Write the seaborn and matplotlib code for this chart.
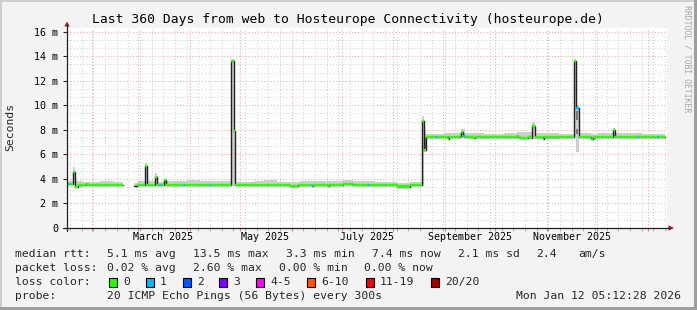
import numpy as np
import pandas as pd
import matplotlib
matplotlib.use("Agg")
import matplotlib.pyplot as plt
from matplotlib.lines import Line2D
from matplotlib.patches import Rectangle, Polygon
import seaborn as sns

W, H = 697, 310

# ---------------- data ----------------
# median RTT, step segments: start day (from graph start), value in ms, loss bucket (-1 = unknown)
med_start = [0.0, 1.2, 3.3, 4.5, 6.6, 11.4, 12.6, 33.6, 40.2, 42.0, 46.8, 48.0, 52.8, 54.0,
             55.8, 56.4, 58.2, 59.1, 70.2, 70.8, 85.8, 86.4, 98.1, 99.9, 100.5, 133.8, 138.6,
             147.0, 147.6, 156.6, 157.2, 165.6, 171.6, 172.2, 180.6, 181.2, 198.0, 205.8,
             213.0, 214.2, 215.4, 221.4, 222.0, 228.6, 229.2, 235.8, 236.4, 237.6, 238.8,
             243.6, 244.8, 270.0, 270.6, 271.8, 276.6, 278.4, 279.0, 280.8, 285.6, 286.2,
             304.2, 305.4, 307.2, 314.4, 315.6, 327.3, 328.8, 342.6, 343.2, 354.6, 355.2]
med_value = [3.55, 3.55, 4.6, 3.37, 3.5, 3.56, 3.5, np.nan, 3.43, 3.5, 5.05, 3.5, 4.15, 3.5,
             3.5, 3.5, 3.9, 3.5, 3.5, 3.5, 3.5, 3.5, 13.6, 7.9, 3.5, 3.43, 3.5,
             3.42, 3.5, 3.42, 3.5, 3.57, 3.47, 3.47, 3.47, 3.47, 3.38, 3.47,
             8.75, 6.35, 7.38, 7.38, 7.38, 7.27, 7.38, 7.5, 7.86, 7.5, 7.38,
             7.3, 7.38, 7.5, 7.42, 7.3, 7.45, 7.3, 8.33, 7.45, 7.25, 7.38,
             13.58, 9.77, 7.38, 7.26, 7.38, 8.0, 7.38, 7.38, 7.38, 7.38, 7.38]
med_loss = [1, 0, 0, 0, 0, 0, 0, -1, -1, 0, 0, 0, 0, 0,
            1, 0, 0, 0, 1, 0, 1, 0, 0, 0, 0, 0, 0,
            1, 0, 0, 0, 0, 1, 0, 1, 0, 0, 0,
            0, 0, 0, 1, 0, 0, 0, 0, 0, 1, 0,
            0, 0, 0, 0, 0, 0, 0, 0, 0, 0, 0,
            0, 1, 0, 0, 0, 0, 0, 1, 0, 1, 0]
END_DAY = 358.8

# smoke (ping spread) segments: start day, low ms, high ms
smoke_start = [0.0, 3.3, 4.5, 9.0, 20.0, 28.0, 33.6, 40.2, 42.0, 46.8, 48.0, 52.8, 54.0, 58.2,
               59.1, 72.0, 80.0, 98.1, 99.9, 100.5, 112.0, 118.0, 126.0, 140.0, 150.0, 165.6,
               171.6, 185.0, 198.0, 205.8, 213.0, 214.2, 215.4, 226.0, 236.4, 238.8, 250.0,
               262.0, 270.0, 279.0, 280.8, 295.0, 304.2, 305.4, 307.2, 314.4, 318.0, 327.3,
               328.8, 335.0, 345.0, 352.0]
smoke_lo = [3.5, 3.5, 3.33, 3.45, 3.45, 3.45, np.nan, 3.4, 3.45, 3.45, 3.45, 3.45, 3.45, 3.45,
            3.45, 3.45, 3.45, 3.45, 3.45, 3.45, 3.45, 3.45, 3.45, 3.45, 3.45, 3.52,
            3.42, 3.42, 3.33, 3.42, 3.42, 6.2, 7.33, 7.33, 7.33, 7.33, 7.33,
            7.33, 7.33, 7.25, 7.25, 7.33, 7.3, 6.2, 7.33, 7.2, 7.33, 7.33,
            7.33, 7.33, 7.33, 7.33]
smoke_hi = [3.82, 5.0, 3.8, 3.75, 3.8, 3.78, np.nan, 3.65, 3.8, 5.3, 3.85, 4.45, 3.78, 4.0,
            3.8, 3.9, 3.8, 13.8, 8.2, 3.75, 3.82, 3.9, 3.78, 3.85, 3.8, 3.88,
            3.8, 3.75, 3.7, 3.75, 9.1, 8.0, 7.7, 7.75, 8.1, 7.78, 7.7,
            7.72, 7.8, 8.6, 7.72, 7.7, 13.8, 10.0, 7.78, 7.7, 7.72, 8.15,
            7.75, 7.72, 7.65, 7.7]

# dense (dark) smoke patches: start, end, low, high
dark_start = [305.4, 305.4, 214.6]
dark_end = [306.6, 306.6, 215.6]
dark_lo = [8.8, 7.7, 6.4]
dark_hi = [9.5, 8.1, 7.45]

loss_labels = ["0", "1", "2", "3", "4-5", "6-10", "11-19", "20/20"]
loss_colors = ["#26ff00", "#00b8ff", "#0059ff", "#7e00ff", "#ff00ff", "#ff5500", "#ff0000", "#a10000"]

y_tick_values = [0, 2, 4, 6, 8, 10, 12, 14, 16]
y_tick_labels = ["0", "2 m", "4 m", "6 m", "8 m", "10 m", "12 m", "14 m", "16 m"]
month_labels = ["March 2025", "May 2025", "July 2025", "September 2025", "November 2025"]
month_label_dates = ["2025-03-16", "2025-05-16", "2025-07-16", "2025-09-16", "2025-11-16"]

title = "Last 360 Days from web to Hosteurope Connectivity (hosteurope.de)"
row1_texts = ["median rtt:", "5.1 ms avg", "13.5 ms max", "3.3 ms min", "7.4 ms now", "2.1 ms sd", "2.4", "am/s"]
row2_texts = ["packet loss:", "0.02 % avg", "2.60 % max", "0.00 % min", "0.00 % now"]
row3_title = "loss color:"
row4_texts = ["probe:", "20 ICMP Echo Pings (56 Bytes) every 300s"]
timestamp = "Mon Jan 12 05:12:28 2026"
END_TIME = pd.Timestamp("2026-01-12 05:12:28")
SPAN_DAYS = 360

# ---------------- figure ----------------
sns.set_theme(style="white")
plt.rcParams["font.family"] = ["DejaVu Sans Mono"]
BG = "#f3f3f3"
fig = plt.figure(figsize=(W / 100, H / 100), dpi=100, facecolor=BG)

def fx(x):
    return x / W

def fy(y):
    return 1 - y / H

AX_L, AX_R, AX_T, AX_B = 67, 667, 27.5, 228
ax = fig.add_axes([fx(AX_L), fy(AX_B), (AX_R - AX_L) / W, (AX_B - AX_T) / H])
ax.set_facecolor("white")
ax.set_xlim(0, SPAN_DAYS)
ymax = 16 * (AX_B - AX_T) / (AX_B - 31.7)
ax.set_ylim(0, ymax)
for s in ax.spines.values():
    s.set_visible(False)

start_time = END_TIME - pd.Timedelta(days=SPAN_DAYS)
def to_day(ts):
    return (pd.Timestamp(ts) - start_time) / pd.Timedelta(days=1)

# grid
month_starts = pd.date_range("2025-02-01", "2026-01-01", freq="MS")
month_days = [to_day(t) for t in month_starts]
week_days = [to_day(t) for t in pd.date_range("2025-01-19", "2026-01-11", freq="W-SUN")]
week_days = [d for d in week_days if min(abs(d - m) for m in month_days) > 0.5]
minor_c, major_c = "#d2d2d2", "#f2a8a8"
dot = (0, (1, 2))
for k in range(1, int(ymax * 1.5) + 1):
    yv = k * 2 / 3
    if k % 3 == 0:
        ax.axhline(yv, color=major_c, lw=0.75, ls=dot, zorder=1)
    else:
        ax.axhline(yv, color=minor_c, lw=0.75, ls=dot, zorder=1)
for d in week_days:
    ax.axvline(d, color=minor_c, lw=0.75, ls=dot, zorder=1)
for d in month_days:
    ax.axvline(d, color=major_c, lw=0.75, ls=dot, zorder=1)

# tick marks below x axis
tl = 3 / (AX_B - AX_T)
ax.vlines(week_days, -tl, 0, transform=ax.get_xaxis_transform(), colors="#b0b0b0", lw=0.75, clip_on=False)
ax.vlines(month_days, -tl, 0, transform=ax.get_xaxis_transform(), colors="#e07070", lw=0.75, clip_on=False)

# smoke
def step_arrays(starts, end, *vals):
    ends = list(starts[1:]) + [end]
    runs, cur = [], []
    for i, s in enumerate(starts):
        if any(np.isnan(v[i]) for v in vals):
            if cur:
                runs.append(cur)
            cur = []
            continue
        cur.append((s, ends[i]) + tuple(v[i] for v in vals))
    if cur:
        runs.append(cur)
    return runs

for run in step_arrays(smoke_start, END_DAY, smoke_lo, smoke_hi):
    xs, lo, hi = [], [], []
    for s, e, l, h in run:
        xs += [s, e]; lo += [l, l]; hi += [h, h]
    ax.fill_between(xs, lo, hi, color="#cdcdcd", lw=0, zorder=2)
for s, e, l, h in zip(dark_start, dark_end, dark_lo, dark_hi):
    ax.fill_between([s, e], [l, l], [h, h], color="#7a7a7a", lw=0, zorder=2.5)

# median line (black)
rows = []
for r, run in enumerate(step_arrays(med_start, END_DAY, med_value)):
    for s, e, v in run:
        rows.append((s, v, r)); rows.append((e, v, r))
df = pd.DataFrame(rows, columns=["day", "ms", "run"])
sns.lineplot(data=df, x="day", y="ms", units="run", estimator=None, sort=False,
             color="#202020", lw=1.0, ax=ax, legend=False, zorder=3)

# loss-coloured median bands
ends = med_start[1:] + [END_DAY]
half = 0.085
for s, e, v, l in zip(med_start, ends, med_value, med_loss):
    if l < 0 or np.isnan(v):
        continue
    c = loss_colors[l]
    ax.fill_between([s, e], [v - half] * 2, [v + half] * 2, color=c, ec=c, lw=0.3, zorder=4)

# axes ticks / labels
ax.set_xticks([to_day(t) for t in month_label_dates], month_labels)
ax.set_yticks(y_tick_values, y_tick_labels)
ax.tick_params(axis="x", length=0, pad=3.2, labelsize=7.2, labelcolor="black")
ax.tick_params(axis="y", length=3, width=0.75, color="#202020", pad=3.5, labelsize=7.2,
               labelcolor="black", left=True)
ax.set_xlabel("")
ax.set_ylabel("")

# axis lines + arrows
axc = "#202020"
fig.add_artist(Line2D([fx(67), fx(67)], [fy(231), fy(25)], color=axc, lw=0.9))
fig.add_artist(Line2D([fx(63), fx(669)], [fy(228), fy(228)], color=axc, lw=0.9))
arc = "#9a1c1c"
fig.add_artist(Polygon([[fx(64.3), fy(26.5)], [fx(69.7), fy(26.5)], [fx(67), fy(21.5)]],
                       closed=True, color=arc, lw=0))
fig.add_artist(Polygon([[fx(668.5), fy(225.3)], [fx(668.5), fy(230.7)], [fx(674), fy(228)]],
                       closed=True, color=arc, lw=0))

# title / labels
fig.text(fx(348), fy(19), title, ha="center", va="center", fontsize=9.4, color="black")
fig.text(fx(10), fy(127), "Seconds", rotation=90, ha="center", va="center", fontsize=8.2)
fig.text(fx(687), fy(5), "RRDTOOL / TOBI OETIKER", rotation=270, ha="center", va="top",
         fontsize=5.9, color="#a8a8a8")

# legend block
LFS = 8.2
row1_x = [16, 107.3, 194, 286.7, 372.7, 458.3, 537.3, 579.3]
row2_x = [16, 107.3, 194, 279.3, 365]
row4_x = [16, 107.3]
for t, x in zip(row1_texts, row1_x):
    fig.text(fx(x - 0.7), fy(254), t, ha="left", va="center", fontsize=LFS)
for t, x in zip(row2_texts, row2_x):
    fig.text(fx(x - 0.7), fy(268), t, ha="left", va="center", fontsize=LFS)
fig.text(fx(16 - 0.7), fy(282), row3_title, ha="left", va="center", fontsize=LFS)
box_x = [108.7, 145.7, 182.7, 219.3, 256, 307.3, 365.7, 430.7]
for c, lab, bx in zip(loss_colors, loss_labels, box_x):
    fig.add_artist(Rectangle((fx(bx), fy(286.5)), 8 / W, 9 / H, facecolor=c,
                             edgecolor="black", lw=0.8))
    fig.text(fx(bx + 15 - 0.7), fy(282), lab, ha="left", va="center", fontsize=LFS)
for t, x in zip(row4_texts, row4_x):
    fig.text(fx(x - 0.7), fy(296), t, ha="left", va="center", fontsize=LFS)
fig.text(fx(680.5), fy(296), timestamp, ha="right", va="center", fontsize=LFS)

# frame
fig.add_artist(Rectangle((0, fy(2)), 1, 2 / H, color="#cfcfcf", lw=0))
fig.add_artist(Rectangle((0, 0), 2 / W, 1, color="#cfcfcf", lw=0))
fig.add_artist(Rectangle((0, 0), 1, 3 / H, color="#9e9e9e", lw=0))
fig.add_artist(Rectangle((fx(694), 0), 3 / W, 1, color="#9e9e9e", lw=0))

fig.savefig("out.png", dpi=100, facecolor=BG)
